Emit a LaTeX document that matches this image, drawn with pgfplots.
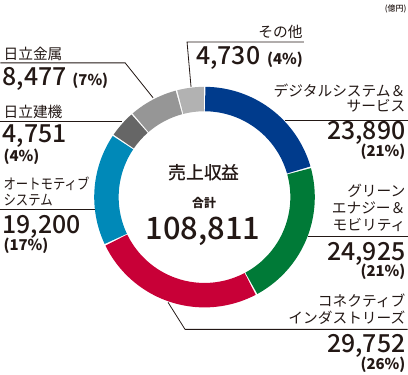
\documentclass[border=0pt]{standalone}
\usepackage{fontspec}
\setmainfont{Noto Sans CJK JP}
\newfontfamily\medf{Noto Sans CJK JP Medium}
\newfontfamily\condf{Noto Sans CJK JP}[FakeStretch=0.84]
\usepackage{pgfplots}
\pgfplotsset{compat=1.18}
\definecolor{cBlue}{RGB}{0,59,140}
\definecolor{cGreen}{RGB}{0,122,55}
\definecolor{cRed}{RGB}{200,0,55}
\definecolor{cTeal}{RGB}{0,137,184}
\definecolor{cDGray}{RGB}{102,102,102}
\definecolor{cMGray}{RGB}{150,150,150}
\definecolor{cLGray}{RGB}{178,178,178}
\definecolor{cText}{RGB}{35,24,21}
% segment values (億円), clockwise from top
\def\vA{23890}\def\vB{24925}\def\vC{29752}\def\vD{19200}\def\vE{4751}\def\vF{8477}\def\vG{4730}
\edef\T{\fpeval{\vA+\vB+\vC+\vD+\vE+\vF+\vG}}
\edef\bA{0}
\edef\bB{\fpeval{360*(\vA)/\T}}
\edef\bC{\fpeval{360*(\vA+\vB)/\T}}
\edef\bD{\fpeval{360*(\vA+\vB+\vC)/\T}}
\edef\bE{\fpeval{360*(\vA+\vB+\vC+\vD)/\T}}
\edef\bF{\fpeval{360*(\vA+\vB+\vC+\vD+\vE)/\T}}
\edef\bG{\fpeval{360*(\vA+\vB+\vC+\vD+\vE+\vF)/\T}}
\edef\bH{360}
\newcommand\labf{\fontsize{14.8}{16}\selectfont}
\newcommand\numf{\medf\fontsize{25}{27}\selectfont}
\newcommand\pctf{\fontsize{15}{17}\selectfont\bfseries}
\tikzset{lab/.style={inner sep=0, text=cText}, ld/.style={draw=cText, line width=0.8bp}}
\begin{document}
\begin{tikzpicture}
\begin{axis}[scale only axis, width=408bp, height=375bp,
  xmin=0, xmax=408, ymin=0, ymax=375, y dir=reverse,
  hide axis, clip=false]
\path (axis cs:0,0) rectangle (axis cs:408,375);
\pgfplotsset{ring/.style={line width=24.5bp, samples=60, no markers}}
\addplot[ring, draw=cBlue,  domain=\bA+0.4:\bB-0.4] ({204.5+98.25*sin(x)},{197.5-98.25*cos(x)});
\addplot[ring, draw=cGreen, domain=\bB+0.4:\bC-0.4] ({204.5+98.25*sin(x)},{197.5-98.25*cos(x)});
\addplot[ring, draw=cRed,   domain=\bC+0.4:\bD-0.4] ({204.5+98.25*sin(x)},{197.5-98.25*cos(x)});
\addplot[ring, draw=cTeal,  domain=\bD+0.4:\bE-0.4] ({204.5+98.25*sin(x)},{197.5-98.25*cos(x)});
\addplot[ring, draw=cDGray, domain=\bE+0.4:\bF-0.4] ({204.5+98.25*sin(x)},{197.5-98.25*cos(x)});
\addplot[ring, draw=cMGray, domain=\bF+0.4:\bG-0.4] ({204.5+98.25*sin(x)},{197.5-98.25*cos(x)});
\addplot[ring, draw=cLGray, domain=\bG+0.4:\bH-0.4] ({204.5+98.25*sin(x)},{197.5-98.25*cos(x)});

% leader lines
\draw[ld] (axis cs:304,42) -- (axis cs:187,42) -- (axis cs:191,87);
\draw[ld] (axis cs:0,63) -- (axis cs:125,63) -- (axis cs:153,98);
\draw[ld] (axis cs:0,122) -- (axis cs:122,122);
\draw[ld] (axis cs:0,210) -- (axis cs:95,210);
\draw[ld] (axis cs:285,121) -- (axis cs:408,121);
\draw[ld] (axis cs:308,237) -- (axis cs:408,237);
\draw[ld] (axis cs:408,330) -- (axis cs:185,330) -- (axis cs:168,303);

% unit
\node[lab, anchor=base east, font=\medf\fontsize{8}{9}\selectfont] at (axis cs:407,12) {(億円)};

% その他
\node[lab, anchor=base east, font=\labf] at (axis cs:303,38) {その他};
\node[lab, anchor=base west, font=\numf] at (axis cs:196,65) {4,730};
\node[lab, anchor=base west, font=\pctf] at (axis cs:267,65) {(4\%)};

% 日立金属
\node[lab, anchor=base west, font=\labf] at (axis cs:3,60) {日立金属};
\node[lab, anchor=base west, font=\numf] at (axis cs:2,86) {8,477};
\node[lab, anchor=base west, font=\pctf] at (axis cs:72,86) {(7\%)};

% 日立建機
\node[lab, anchor=base west, font=\labf] at (axis cs:3,118) {日立建機};
\node[lab, anchor=base west, font=\numf] at (axis cs:2,143) {4,751};
\node[lab, anchor=base west, font=\pctf] at (axis cs:3,162) {(4\%)};

% オートモティブシステム
\node[lab, anchor=base west, font=\condf\labf] at (axis cs:3,190) {オートモティブ};
\node[lab, anchor=base west, font=\condf\labf] at (axis cs:3,206) {システム};
\node[lab, anchor=base west, font=\numf] at (axis cs:2,234) {19,200};
\node[lab, anchor=base west, font=\pctf] at (axis cs:3,251) {(17\%)};

% デジタルシステム＆サービス
\node[lab, anchor=base east, font=\labf] at (axis cs:406,97) {デジタルシステム＆};
\node[lab, anchor=base east, font=\labf] at (axis cs:406,112) {サービス};
\node[lab, anchor=base east, font=\numf] at (axis cs:406,140) {23,890};
\node[lab, anchor=base east, font=\pctf] at (axis cs:406,157) {(21\%)};

% グリーンエナジー＆モビリティ
\node[lab, anchor=base east, font=\labf] at (axis cs:406,197) {グリーン};
\node[lab, anchor=base east, font=\labf] at (axis cs:406,214) {エナジー＆};
\node[lab, anchor=base east, font=\labf] at (axis cs:406,231) {モビリティ};
\node[lab, anchor=base east, font=\numf] at (axis cs:406,261) {24,925};
\node[lab, anchor=base east, font=\pctf] at (axis cs:406,277) {(21\%)};

% コネクティブインダストリーズ
\node[lab, anchor=base east, font=\labf] at (axis cs:406,307) {コネクティブ};
\node[lab, anchor=base east, font=\labf] at (axis cs:406,324) {インダストリーズ};
\node[lab, anchor=base east, font=\numf] at (axis cs:406,353) {29,752};
\node[lab, anchor=base east, font=\pctf] at (axis cs:406,370) {(26\%)};

% center
\node[lab, anchor=base, font=\medf\fontsize{18}{20}\selectfont] at (axis cs:204,180) {売上収益};
\node[lab, anchor=base, font=\fontsize{12}{14}\selectfont\bfseries] at (axis cs:204,208) {合計};
\node[lab, anchor=base, font=\medf\fontsize{31}{33}\selectfont] at (axis cs:203,240) {108,811};
\end{axis}
\end{tikzpicture}
\end{document}
